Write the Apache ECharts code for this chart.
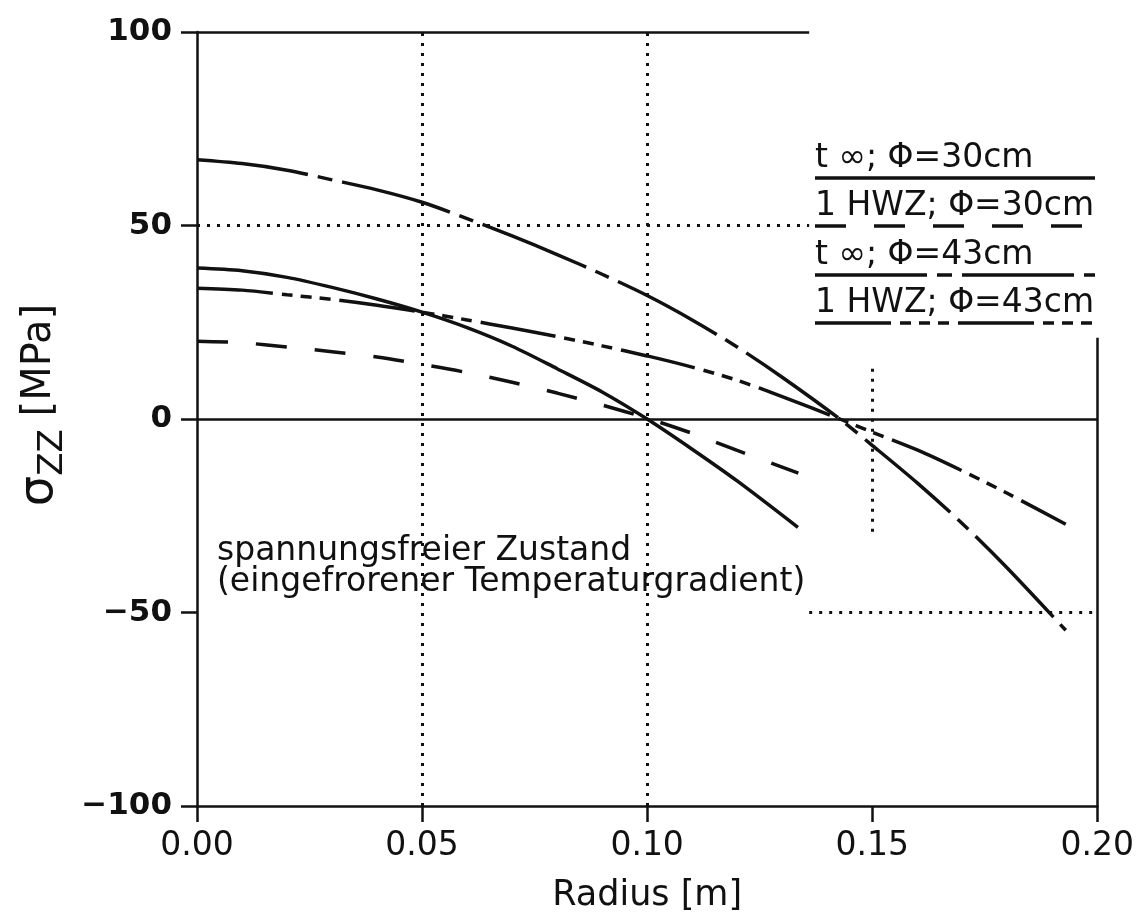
<!DOCTYPE html>
<html>
<head>
<meta charset="utf-8">
<script src="https://cdn.jsdelivr.net/npm/echarts@6/dist/echarts.min.js"></script>
<style>
html,body{margin:0;padding:0;background:#fff;}
#chart{width:1137px;height:923px;}
</style>
</head>
<body>
<div id="chart"></div>
<script>
// ---- data ----
const xTickValues = [0, 0.05, 0.10, 0.15, 0.20];
const yTickValues = [-100, -50, 0, 50, 100];

// t ∞; Φ=30cm (solid)
const radiusA = [0, 0.01, 0.02, 0.03, 0.04, 0.05, 0.06, 0.07, 0.08, 0.09, 0.10, 0.11, 0.12, 0.1335];
const stressA = [39, 38.3, 36.6, 34, 31, 27.6, 23.6, 18.8, 13, 7, 0, -7.8, -16, -28];

// 1 HWZ; Φ=30cm (long dashes)
const radiusB = [0, 0.01, 0.02, 0.03, 0.04, 0.05, 0.06, 0.07, 0.08, 0.09, 0.10, 0.11, 0.12, 0.1336];
const stressB = [20.1, 19.7, 18.6, 17.4, 16.0, 14.1, 12.0, 9.5, 6.7, 3.6, 0.2, -3.7, -8.1, -14];

// t ∞; Φ=43cm (long-short)
const radiusC = [0, 0.01, 0.02, 0.03, 0.04, 0.05, 0.06, 0.07, 0.08, 0.09, 0.10, 0.11, 0.12, 0.13, 0.1428, 0.15, 0.16, 0.17, 0.18, 0.193];
const stressC = [67, 66, 64.3, 61.8, 59.2, 56, 51.8, 47.3, 42.5, 37.4, 31.9, 25.6, 18.6, 10.8, 0, -6.8, -16.5, -27, -38.5, -54.6];

// 1 HWZ; Φ=43cm (long-short-short-short)
const radiusD = [0, 0.01, 0.02, 0.03, 0.04, 0.05, 0.06, 0.07, 0.08, 0.09, 0.10, 0.11, 0.12, 0.13, 0.1428, 0.15, 0.16, 0.17, 0.18, 0.193];
const stressD = [33.8, 33.3, 32.1, 30.9, 29.4, 27.6, 25.6, 23.5, 21.3, 18.9, 16.3, 13.4, 10.0, 5.8, 0, -3.4, -8.0, -13.4, -19.2, -27.2];

const legendLabels = ['t ∞; Φ=30cm', '1 HWZ; Φ=30cm', 't ∞; Φ=43cm', '1 HWZ; Φ=43cm'];
const annotationLines = ['spannungsfreier Zustand', '(eingefrorener Temperaturgradient)'];
const xAxisTitle = 'Radius [m]';

// ---- styles ----
const INK = '#111';
const dashA = 'solid';
const dashB = [31, 28];
const dashC = [112, 10, 15, 10];
const dashD = [76, 9, 11, 8, 11, 8, 11, 9];
const dashes = [dashA, dashB, dashC, dashD];
const FONT = '"DejaVu Sans", sans-serif';

function pairs(xs, ys){ return xs.map((x,i)=>[x, ys[i]]); }

const chart = echarts.init(document.getElementById('chart'), null, {renderer:'canvas'});

const dotted = {color: INK, width: 3, type: [3, 7]};
const solid = {color: INK, width: 2.5, type: 'solid'};
function seg(x1,y1,x2,y2,style){
  return [{coord:[x1,y1], lineStyle: style}, {coord:[x2,y2]}];
}

function mkSeries(name, data, dash){
  return {
    name, type:'line', data, showSymbol:false, symbol:'none', smooth:0.3,
    lineStyle:{color: INK, width: 3.5, type: dash, cap:'butt'},
    z: 5, silent:true
  };
}

const guideSeries = {
  type:'line', data:[], silent:true, z:2,
  markLine:{
    silent:true, symbol:['none','none'], animation:false,
    label:{show:false},
    data:[
      seg(0.05,-100,0.05,100,dotted),
      seg(0.10,-100,0.10,100,dotted),
      seg(0.15,13,0.15,-30,dotted),
      seg(0,50,0.136,50,dotted),
      seg(0.136,-50,0.2,-50,dotted),
      seg(0,100,0.136,100,solid),
      seg(0,0,0.2,0,solid),
      seg(0.2,-100,0.2,21,solid)
    ]
  }
};

const legendGraphics = [];
const legendTop = [142, 190, 239, 287];
legendLabels.forEach((t,i)=>{
  legendGraphics.push({
    type:'text', left:815, top:legendTop[i], silent:true,
    style:{text:t, font:'33px '+FONT, fill:INK}
  });
  const y = legendTop[i] + 36;
  legendGraphics.push({
    type:'line', silent:true,
    shape:{x1:815, y1:y, x2:1095, y2:y},
    style:{stroke:INK, lineWidth:3.5, lineDash: dashes[i]==='solid'?null:dashes[i]}
  });
});

const option = {
  animation:false,
  backgroundColor:'#fff',
  grid:{left:197, right:35, top:32, bottom:117, containLabel:false},
  xAxis:{
    type:'value', min:0, max:0.2, interval:0.05,
    name: xAxisTitle, nameLocation:'middle', nameGap:72,
    nameTextStyle:{fontFamily:FONT, fontSize:35, color:INK},
    axisLine:{show:true, onZero:false, lineStyle:{color:INK, width:2.5}},
    axisTick:{show:true, length:16, lineStyle:{color:INK, width:2.5}},
    axisLabel:{margin:24, fontFamily:FONT, fontSize:33, color:INK,
      formatter:v=>v.toFixed(2)},
    splitLine:{show:false}
  },
  yAxis:{
    type:'value', min:-100, max:100, interval:50,
    name:'{g|σ}{sub|ZZ}{s| [MPa]}', nameLocation:'middle', nameRotate:90, nameGap:122,
    nameTextStyle:{
      color:INK, padding:[0,0,0,28],
      rich:{
        g:{fontFamily:FONT, fontSize:48, color:INK, lineHeight:62, verticalAlign:'middle'},
        s:{fontFamily:FONT, fontSize:40, color:INK, lineHeight:62, verticalAlign:'middle'},
        sub:{fontFamily:FONT, fontSize:34, color:INK, lineHeight:62, verticalAlign:'bottom'}
      }
    },
    axisLine:{show:true, lineStyle:{color:INK, width:2.5}},
    axisTick:{show:true, length:16, lineStyle:{color:INK, width:2.5}},
    axisLabel:{margin:25, fontFamily:FONT, fontSize:31, fontWeight:'bold', color:INK,
      formatter:v=>String(v).replace('-', '−')},
    splitLine:{show:false}
  },
  graphic:[
    ...legendGraphics,
    {type:'text', left:217, top:535, silent:true,
     style:{text: annotationLines.join('\n'), font:'33px '+FONT, fill:INK, lineHeight:31}}
  ],
  series:[
    guideSeries,
    mkSeries(legendLabels[0], pairs(radiusA, stressA), dashA),
    mkSeries(legendLabels[1], pairs(radiusB, stressB), dashB),
    mkSeries(legendLabels[2], pairs(radiusC, stressC), dashC),
    mkSeries(legendLabels[3], pairs(radiusD, stressD), dashD)
  ]
};
chart.setOption(option);
</script>
</body>
</html>
